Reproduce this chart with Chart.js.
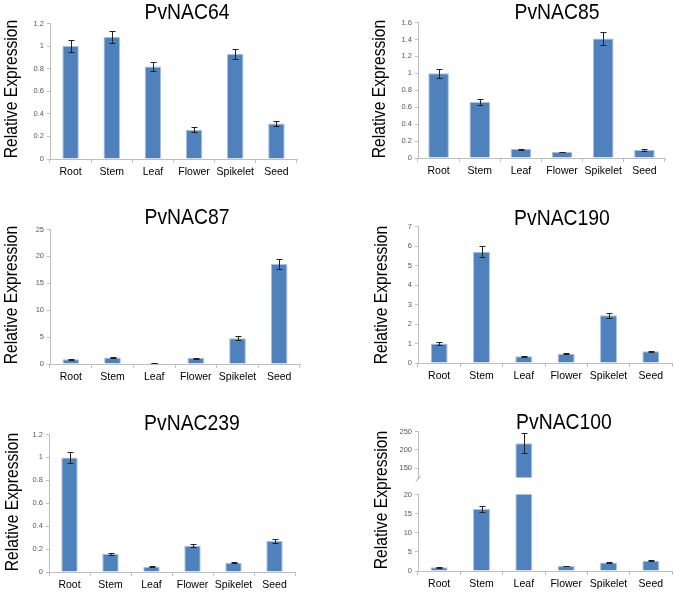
<!DOCTYPE html>
<html>
<head>
<meta charset="utf-8">
<script src="https://cdn.jsdelivr.net/npm/chart.js@4.4.1/dist/chart.umd.min.js"></script>
<style>
	html, body { margin: 0; padding: 0; background: #fff; overflow: hidden; }
	#wrap { position: relative; width: 675px; height: 593px; }
	canvas { position: absolute; }
	.gene { position: absolute; font: 22px 'Liberation Sans', Arial, sans-serif; color: #000; white-space: nowrap; line-height: 1; transform: translate(-50%, -50%) scaleX(0.88); }
	.ytitle { position: absolute; font: 18px 'Liberation Sans', Arial, sans-serif; color: #000; white-space: nowrap; line-height: 1; transform: translate(-50%, -50%) rotate(-90deg) scaleX(0.87); }
</style>
</head>
<body>
<div id="wrap">
	<canvas id="c64"></canvas>
	<canvas id="c85"></canvas>
	<canvas id="c87"></canvas>
	<canvas id="c190"></canvas>
	<canvas id="c239"></canvas>
	<canvas id="c100lo"></canvas>
	<canvas id="c100hi"></canvas>

	<div class="gene" style="left:187px;top:12px">PvNAC64</div>
	<div class="gene" style="left:557px;top:12px">PvNAC85</div>
	<div class="gene" style="left:187px;top:217px">PvNAC87</div>
	<div class="gene" style="left:562px;top:218px">PvNAC190</div>
	<div class="gene" style="left:192px;top:423px">PvNAC239</div>
	<div class="gene" style="left:564px;top:422px">PvNAC100</div>

	<div class="ytitle" style="left:11px;top:89px">Relative Expression</div>
	<div class="ytitle" style="left:379px;top:89px">Relative Expression</div>
	<div class="ytitle" style="left:11px;top:295px">Relative Expression</div>
	<div class="ytitle" style="left:381px;top:295px">Relative Expression</div>
	<div class="ytitle" style="left:12px;top:502px">Relative Expression</div>
	<div class="ytitle" style="left:381px;top:500px">Relative Expression</div>
</div>
<script>
	"use strict";

	var categories = ["Root", "Stem", "Leaf", "Flower", "Spikelet", "Seed"];

	var nac64Values = [1.0, 1.08, 0.82, 0.26, 0.93, 0.315];
	var nac64Errors = [0.05, 0.055, 0.04, 0.02, 0.045, 0.02];
	var nac64Ticks = [0, 0.2, 0.4, 0.6, 0.8, 1, 1.2];

	var nac85Values = [1.0, 0.66, 0.105, 0.07, 1.41, 0.095];
	var nac85Errors = [0.055, 0.035, 0.006, 0.005, 0.075, 0.008];
	var nac85Ticks = [0, 0.2, 0.4, 0.6, 0.8, 1, 1.2, 1.4, 1.6];

	var nac87Values = [0.9, 1.2, 0.15, 1.1, 4.8, 18.6];
	var nac87Errors = [0.1, 0.12, 0.05, 0.1, 0.35, 1.0];
	var nac87Ticks = [0, 5, 10, 15, 20, 25];

	var nac190Values = [1.0, 5.7, 0.35, 0.47, 2.45, 0.6];
	var nac190Errors = [0.06, 0.28, 0.02, 0.02, 0.12, 0.03];
	var nac190Ticks = [0, 1, 2, 3, 4, 5, 6, 7];

	var nac239Values = [1.0, 0.16, 0.045, 0.23, 0.08, 0.27];
	var nac239Errors = [0.05, 0.01, 0.005, 0.015, 0.005, 0.02];
	var nac239Ticks = [0, 0.2, 0.4, 0.6, 0.8, 1, 1.2];

	// PvNAC100 has a broken axis: low part 0-20, high part 125-250
	var nac100Values = [1.0, 16.2, 218, 1.3, 2.2, 2.7];
	var nac100Errors = [0.1, 0.9, 27, 0.1, 0.1, 0.15];
	var nac100LowTicks = [0, 5, 10, 15, 20];
	var nac100HighTicks = [150, 200, 250];
	var nac100HighMin = 125;

	Chart.defaults.font.family = "'Liberation Sans', Arial, sans-serif";

	var axisColor = "#bfbfbf";

	var errorBars = {
		id: "errorBars",
		afterDatasetsDraw: function(chart) {
			var ctx = chart.ctx;
			var area = chart.chartArea;
			var yScale = chart.scales.y;
			chart.data.datasets.forEach(function(ds, di) {
				var meta = chart.getDatasetMeta(di);
				ctx.save();
				ctx.beginPath();
				ctx.rect(area.left, area.top - 1, area.right - area.left, area.bottom - area.top + 1);
				ctx.clip();
				ctx.strokeStyle = "#222";
				ctx.lineWidth = 1;
				meta.data.forEach(function(bar, i) {
					var v = ds.data[i], e = ds.errors[i];
					if (v == null || !e) return;
					var x = Math.round(bar.x) + 0.5;
					var y1 = Math.round(yScale.getPixelForValue(v + e)) + 0.5;
					var y2 = Math.round(yScale.getPixelForValue(v - e)) + 0.5;
					ctx.beginPath();
					ctx.moveTo(x, y1); ctx.lineTo(x, y2);
					ctx.moveTo(x - 3, y1); ctx.lineTo(x + 3, y1);
					ctx.moveTo(x - 3, y2); ctx.lineTo(x + 3, y2);
					ctx.stroke();
				});
				ctx.restore();
			});
		}
	};

	var axisBreak = {
		id: "axisBreak",
		afterDraw: function(chart) {
			var ctx = chart.ctx, a = chart.chartArea;
			ctx.save();
			ctx.strokeStyle = "#999";
			ctx.lineWidth = 1;
			ctx.beginPath();
			ctx.moveTo(a.left - 2, a.bottom + 4);
			ctx.lineTo(a.left + 2, a.bottom - 1);
			ctx.stroke();
			ctx.restore();
		}
	};

	// box: axisX = pixel of y axis, top = pixel of top tick, zero = pixel of bottom, right = end of x axis
	function drawPanel(id, box, values, errors, ticks, yMin, yMax, barPct, showX, extraPlugins) {
		var cv = document.getElementById(id);
		var left = box.axisX - 32;
		var topPx = box.top - 6;
		var bottomSpace = showX ? 24 : 6;
		cv.width = box.right + 2 - left;
		cv.height = box.zero + bottomSpace - topPx;
		cv.style.left = left + "px";
		cv.style.top = topPx + "px";

		return new Chart(cv, {
			type: "bar",
			data: {
				labels: categories,
				datasets: [{
					data: values,
					errors: errors,
					backgroundColor: "#4f81bd",
					borderColor: "#a9c1e0",
					borderWidth: 1,
					barPercentage: barPct,
					categoryPercentage: 1,
					clip: 0
				}]
			},
			options: {
				responsive: false,
				animation: false,
				events: [],
				layout: {
					padding: { top: 6, right: 2, left: 0, bottom: showX ? 0 : 6 }
				},
				plugins: {
					legend: { display: false },
					tooltip: { enabled: false }
				},
				scales: {
					x: {
						display: showX,
						grid: {
							display: true,
							drawOnChartArea: false,
							offset: true,
							tickLength: 4,
							color: axisColor
						},
						border: { color: axisColor },
						ticks: {
							color: "#000",
							font: { size: 10.5 },
							padding: 3,
							maxRotation: 0,
							autoSkip: false
						},
						afterFit: function(s) { s.height = showX ? 24 : 0; }
					},
					y: {
						min: yMin,
						max: yMax,
						grid: {
							drawOnChartArea: false,
							tickLength: 3,
							color: axisColor
						},
						border: { color: axisColor },
						ticks: {
							color: "#595959",
							font: { size: 7.5 },
							padding: 3,
							callback: function(v) { return String(v); }
						},
						afterBuildTicks: function(s) {
							s.ticks = ticks.map(function(t) { return { value: t }; });
						},
						afterFit: function(s) { s.width = 32; }
					}
				}
			},
			plugins: [errorBars].concat(extraPlugins || [])
		});
	}

	drawPanel("c64", { axisX: 50, top: 22, zero: 159, right: 297 },
		nac64Values, nac64Errors, nac64Ticks, 0, 1.2, 0.4, true);
	drawPanel("c85", { axisX: 418, top: 21, zero: 158, right: 665 },
		nac85Values, nac85Errors, nac85Ticks, 0, 1.6, 0.5, true);
	drawPanel("c87", { axisX: 50, top: 228, zero: 364, right: 300 },
		nac87Values, nac87Errors, nac87Ticks, 0, 25, 0.4, true);
	drawPanel("c190", { axisX: 418, top: 225, zero: 363, right: 672 },
		nac190Values, nac190Errors, nac190Ticks, 0, 7, 0.4, true);
	drawPanel("c239", { axisX: 49, top: 433, zero: 572, right: 295 },
		nac239Values, nac239Errors, nac239Ticks, 0, 1.2, 0.4, true);
	drawPanel("c100lo", { axisX: 418, top: 493, zero: 571, right: 672 },
		nac100Values, nac100Errors, nac100LowTicks, 0, 20, 0.4, true);
	drawPanel("c100hi", { axisX: 418, top: 430, zero: 479, right: 672 },
		nac100Values, nac100Errors, nac100HighTicks, nac100HighMin, 250, 0.4, false, [axisBreak]);
</script>
</body>
</html>
